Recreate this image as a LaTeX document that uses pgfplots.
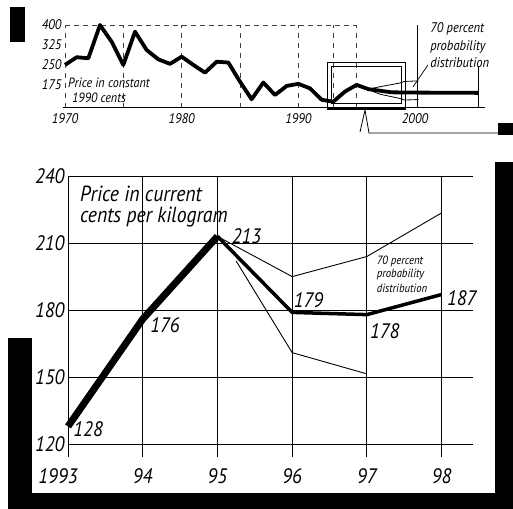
\documentclass[border=0pt]{standalone}
\usepackage{fontspec}
\setmainfont{PT Sans}[FakeStretch=0.9]
\usepackage{pgfplots}
\pgfplotsset{compat=1.18}
\newcommand{\fs}[1]{\itshape\fontsize{#1}{#1}\selectfont}
\begin{document}
\begin{tikzpicture}
\useasboundingbox (0,0) rectangle (513bp,-509bp);
% scan borders
\fill[black] (10bp,-7bp) rectangle (25bp,-42bp);
\fill[black] (498bp,-123bp) rectangle (513bp,-135bp);
\fill[black] (495bp,-162bp) rectangle (513bp,-509bp);
\fill[black] (8bp,-338bp) rectangle (32bp,-509bp);
\fill[black] (8bp,-493bp) rectangle (513bp,-509bp);
\draw[line width=0.8bp] (360bp,-132bp) -- (365bp,-110bp) -- (369bp,-133bp) -- (500bp,-133bp);

% small chart: constant 1990 cents
\begin{axis}[
    scale only axis, width=420bp, height=82.5bp,
    at={(65bp,-107.5bp)}, anchor=south west,
    xmin=1970, xmax=2006, ymin=90, ymax=400,
    clip=false, axis line style={draw=none},
    xtick={1970,1980,1990,2000}, xticklabels={1970,1980,1990,2000},
    ytick={175,250,325,400}, yticklabels={175,250,325,400},
    major tick length=0pt,
    tick label style={font=\fs{14}},
    xticklabel style={yshift=-3bp},
    /pgf/number format/assume math mode=true
  ]
  \pgfplotsinvokeforeach{1970,1975,1980,1985,1990,1993,1995}{
    \draw[black!75, line width=0.5bp, dash pattern=on 5bp off 5bp] (axis cs:#1,90) -- (axis cs:#1,400);
  }
  \draw[black!75, line width=0.5bp, dash pattern=on 5bp off 4bp] (axis cs:1970,400) -- (axis cs:1995,400);
  \draw[line width=1bp] (axis cs:1969.8,90) -- (axis cs:2006,90);
  \draw[line width=0.9bp] (axis cs:2000.25,90) -- (axis cs:2000.25,400);
  \draw[line width=0.9bp] (axis cs:2005.4,90) -- (axis cs:2005.4,245);
  \draw[line width=0.9bp] (axis cs:1992.5,83) rectangle (axis cs:1999.2,257.5);
  \draw[line width=0.8bp] (axis cs:1992.85,107) rectangle (axis cs:1998.85,246);
  \draw[line width=3bp] (axis cs:1992.5,87) -- (axis cs:1999.2,87);

  \addplot[black, line width=3.8bp, line join=round] coordinates {
    (1970,250) (1971,279) (1972,275) (1973,400) (1974,337) (1975,250)
    (1976,375) (1977,306) (1978,271) (1979,254) (1980,281) (1981,250)
    (1982,221) (1983,262) (1984,259) (1985,187) (1986,121) (1987,184)
    (1988,137) (1989,171) (1990,179) (1991,162) (1992,119) (1993,112)
    (1994,150) (1995,175) (1996,159) (1998,147) (2000.3,146) (2005.4,145)
  };
  \addplot[black, line width=0.8bp] coordinates {
    (1996,159) (1997,168) (1998.7,182) (1999.1,188) (2000.3,190)
  };
  \addplot[black, line width=0.8bp] coordinates {
    (1996,157) (1997,140) (1998.7,124) (1999.1,118) (2000.3,120)
  };

  \node[anchor=base west, inner sep=0pt, font=\fs{13.5}] at (axis cs:1970.26,163.75) {Price in constant};
  \node[anchor=base west, inner sep=0pt, font=\fs{13.5}] at (axis cs:1970.6,107.5) {1990 cents};
  \node[anchor=base west, inner sep=0pt, font=\fs{14}] at (axis cs:2001.29,370) {70 percent};
  \node[anchor=base west, inner sep=0pt, font=\fs{14}] at (axis cs:2001.29,306) {probability};
  \node[anchor=base west, inner sep=0pt, font=\fs{14}] at (axis cs:2001.29,239) {distribution};
  \draw[line width=0.7bp] (axis cs:1999.83,167.5) -- (axis cs:2001.11,250);
\end{axis}

% main chart: current cents per kilogram
\begin{axis}[
    scale only axis, width=405bp, height=268.3bp,
    at={(68bp,-444.3bp)}, anchor=south west,
    xmin=1993, xmax=1998.42, ymin=120, ymax=240,
    clip=false, axis line style={draw=none},
    grid=major, grid style={black, line width=0.8bp},
    xtick={1993,1994,1995,1996,1997,1998},
    xticklabels={\makebox[0pt]{\hspace{-20bp}1993},94,95,96,97,98},
    ytick={120,150,180,210,240},
    yticklabels={120,150,180,210,240},
    tickpos=left, xtick align=outside,
    ytick style={draw=none}, xtick style={black, line width=0.8bp},
    major tick length=13bp,
    tick label style={font=\fs{21}},
    xticklabel style={yshift=-8bp},
    /pgf/number format/assume math mode=true
  ]
  \addplot[black, line width=0.9bp] coordinates {(1995,213) (1996,195) (1997,204) (1998,223.5)};
  \addplot[black, line width=0.9bp] coordinates {(1995.25,202) (1996,161) (1997,151.5)};
  \addplot[black, line width=7bp, line join=round] coordinates {(1993,128) (1994,176) (1995,213)};
  \addplot[black, line width=3.5bp, line join=round] coordinates {(1995,213) (1996,179) (1997,178) (1998,187)};

  \node[anchor=base west, inner sep=0pt, font=\fs{21}] at (axis cs:1995.19,209.6) {213};
  \node[anchor=base west, inner sep=0pt, font=\fs{21}] at (axis cs:1994.10,169.8) {176};
  \node[anchor=base west, inner sep=0pt, font=\fs{21}] at (axis cs:1993.07,123.3) {128};
  \node[anchor=base west, inner sep=0pt, font=\fs{21}] at (axis cs:1996.02,181.4) {179};
  \node[anchor=base west, inner sep=0pt, font=\fs{21}] at (axis cs:1997.04,167.5) {178};
  \node[anchor=base west, inner sep=0pt, font=\fs{21}] at (axis cs:1998.07,182.3) {187};
  \node[anchor=base west, inner sep=0pt, font=\fs{22}] at (axis cs:1993.16,228.4) {Price in current};
  \node[anchor=base west, inner sep=0pt, font=\fs{22}] at (axis cs:1993.16,219.0) {cents per kilogram};
  \node[anchor=base west, inner sep=0pt, font=\fs{12}] at (axis cs:1997.13,200.2) {70 percent};
  \node[anchor=base west, inner sep=0pt, font=\fs{12}] at (axis cs:1997.13,194.4) {probability};
  \node[anchor=base west, inner sep=0pt, font=\fs{12}] at (axis cs:1997.13,187.7) {distribution};
\end{axis}
\end{tikzpicture}
\end{document}
